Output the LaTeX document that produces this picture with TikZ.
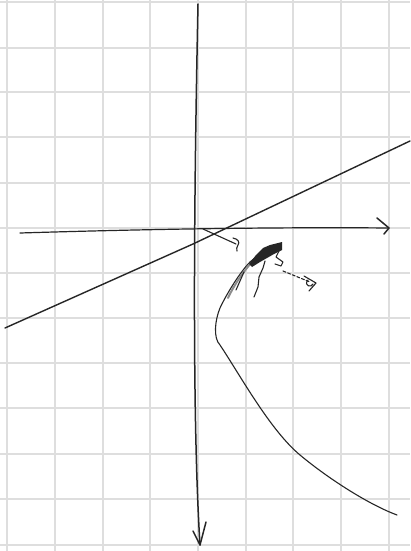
\documentclass[tikz,border=0pt]{standalone}
\begin{document}
\begin{tikzpicture}[x=1pt,y=-1pt,
  gridline/.style={draw=black!13,line width=1.4pt},
  pen/.style={draw=black!85,line width=1.5pt,line cap=round,line join=round},
  thinpen/.style={draw=black!85,line width=1.1pt,line cap=round,line join=round}]
\useasboundingbox[fill=white] (0,0) rectangle (410,551);
% grid
\foreach \gx in {7,55,103,150,198,246,293,341,389}
  \draw[gridline] (\gx,0) -- (\gx,551);
\foreach \gy in {2,48,92,137,183,228,273,318,363,408,454,499,545}
  \draw[gridline] (0,\gy) -- (410,\gy);
% named points
\coordinate (ytop) at (198,4);
\coordinate (ybot) at (200,545);
\coordinate (xl) at (20,233);
\coordinate (xr) at (389,228);
\coordinate (al) at (5,328);
\coordinate (ar) at (410,141);
% y axis
\draw[pen] (ytop) .. controls (195,150) and (191,400) .. (ybot);
\draw[pen] (193,531) -- (ybot) -- (206,522);
% x axis
\draw[pen,line width=1.2pt] (xl) .. controls (150,229) and (280,227) .. (xr);
\draw[pen] (377,218) -- (xr) -- (384,234);
% asymptote
\draw[pen,line width=1.4pt] (al) -- (193,244) -- (ar);
% small arrow
\draw[thinpen] (203,229) -- (236,244);
\draw[thinpen] (233,238) .. controls (238,239) and (240,242) .. (238,245)
  .. controls (237,247) and (236,249) .. (237,251);
% hyperbola branch
\draw[thinpen] (280,246) .. controls (270,247) and (262,252) .. (250,262)
  .. controls (240,272) and (226,295) .. (220,308)
  .. controls (215,320) and (213,338) .. (220,345)
  .. controls (240,375) and (270,430) .. (300,455)
  .. controls (330,480) and (370,505) .. (397,515);
\draw[thinpen,line width=2pt,draw=black!45] (252,262) .. controls (243,272) and (234,285) .. (228,298);
% scribble at the top of the branch
\fill[black!85] (249,264) -- (256,255) -- (263,248) -- (270,245) -- (282,242) -- (282,250) -- (274,254) -- (267,258) -- (260,262) -- (252,267) -- cycle;
\draw[thinpen] (280,249) -- (276,257) -- (283,262) -- (281,266) -- (275,264);
\draw[thinpen] (265,261) -- (263,268) -- (259,277) -- (258,287) -- (254,297);
\draw[thinpen] (244,272) -- (236,290);
% dashed arrow
\draw[thinpen,dash pattern=on 3pt off 2pt] (283,271) -- (310,282);
\draw[thinpen] (304,276) -- (316,283) -- (309,291);
\draw[thinpen] (308,280) .. controls (303,286) and (312,288) .. (313,284);
\end{tikzpicture}
\end{document}
